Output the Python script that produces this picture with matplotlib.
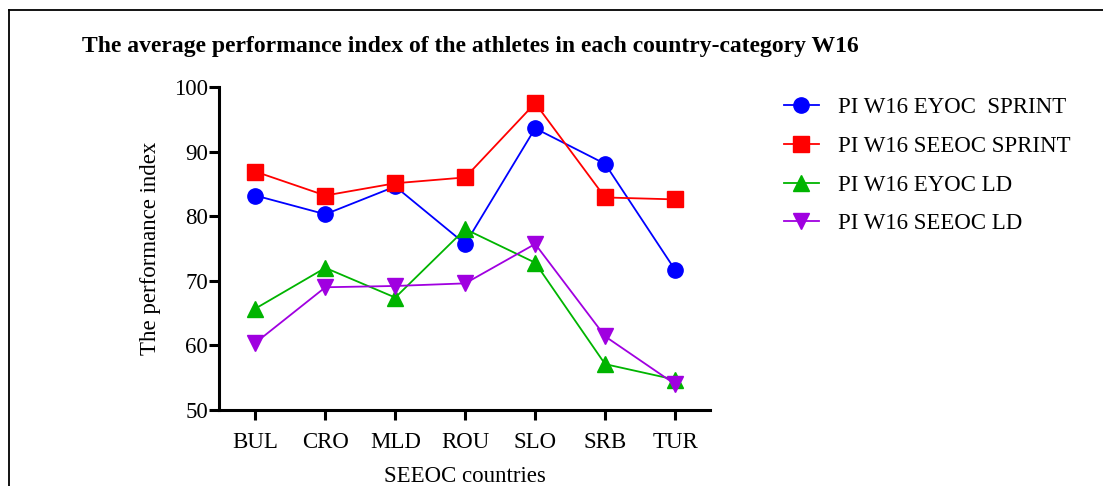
import matplotlib
matplotlib.use('Agg')
import matplotlib.pyplot as plt
from matplotlib.lines import Line2D

plt.rcParams['font.family'] = ['Liberation Serif', 'DejaVu Serif']

countries = ['BUL', 'CRO', 'MLD', 'ROU', 'SLO', 'SRB', 'TUR']
eyoc_sprint = [83.2, 80.3, 84.6, 75.7, 93.6, 88.1, 71.7]
seeoc_sprint = [86.9, 83.2, 85.1, 86.0, 97.5, 82.9, 82.6]
eyoc_ld = [65.7, 72.0, 67.4, 78.0, 72.8, 57.1, 54.7]
seeoc_ld = [60.4, 69.0, 69.2, 69.6, 75.7, 61.4, 54.0]

series = [
    ('PI W16 EYOC  SPRINT', eyoc_sprint, '#0000FF', 'o'),
    ('PI W16 SEEOC SPRINT', seeoc_sprint, '#FF0000', 's'),
    ('PI W16 EYOC LD', eyoc_ld, '#00B400', '^'),
    ('PI W16 SEEOC LD', seeoc_ld, '#A000E0', 'v'),
]

fig = plt.figure(figsize=(11.03, 4.86), dpi=100)
ax = fig.add_axes([0.1986, 0.1564, 0.4451, 0.6646])

x = range(len(countries))
for name, vals, col, mk in series:
    ax.plot(x, vals, color=col, marker=mk, markersize=11, linewidth=1.3, label=name)

ax.set_xlim(-0.52, 6.5)
ax.set_ylim(50, 100)
ax.set_yticks([50, 60, 70, 80, 90, 100])
ax.set_xticks(list(x))
ax.set_xticklabels(countries)

for s in ['top', 'right']:
    ax.spines[s].set_visible(False)
for s in ['left', 'bottom']:
    ax.spines[s].set_linewidth(2.2)
ax.tick_params(axis='both', width=2.2, length=7, labelsize=16.5, direction='out')
ax.tick_params(axis='x', pad=9)
ax.tick_params(axis='y', pad=1)

ax.set_ylabel('The performance index', fontsize=16.5, labelpad=9)
ax.set_xlabel('SEEOC countries', fontsize=16.5, labelpad=9)

fig.text(0.074, 0.905, 'The average performance index of the athletes in each country-category W16',
         fontsize=17, fontweight='bold', ha='left', va='center')

leg = ax.legend(loc='upper left', bbox_to_anchor=(1.151, 0.97), frameon=False, fontsize=16.5,
                handlelength=1.5, labelspacing=0.78, handletextpad=0.87, borderpad=0,
                borderaxespad=0, markerscale=1.0)

# frame around the figure (left and top edges visible)
fig.add_artist(Line2D([0.0085, 0.0085], [0.0, 0.979], color='black', linewidth=1.3, transform=fig.transFigure))
fig.add_artist(Line2D([0.0085, 1.0], [0.979, 0.979], color='black', linewidth=1.3, transform=fig.transFigure))

fig.savefig('out.png', dpi=100)
